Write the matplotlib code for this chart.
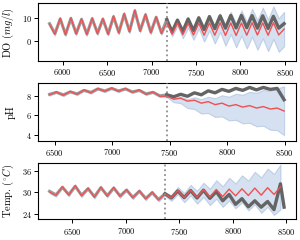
import numpy as np
import matplotlib
matplotlib.use("Agg")
import matplotlib.pyplot as plt

plt.rcParams["font.family"] = "serif"
plt.rcParams["font.serif"] = ["cmr10"]
plt.rcParams["mathtext.fontset"] = "cm"
plt.rcParams["axes.formatter.use_mathtext"] = True
plt.rcParams["font.size"] = 6

# time grids (one point per half-cycle of the wave)
t_do = np.arange(5852, 8493, 60)
t_ph = np.arange(6456, 8497, 60)
t_tp = np.arange(6286, 8447, 60)
split_do, split_ph, split_tp = 22, 17, 18

# DO (mg/l)
do_true = [7.5, 3.3, 9.5, 3.0, 9.7, 3.4, 9.3, 3.1, 9.6, 3.5, 9.4, 3.2, 10.4, 3.8, 11.4, 4.3,
           12.9, 4.6, 11.2, 3.9, 10.2, 3.6, 9.2,
           4.0, 9.0, 4.2, 9.5, 4.6, 10.0, 5.0, 10.5, 5.4, 10.8, 5.6, 11.0, 5.7, 11.0, 5.8,
           10.9, 5.6, 10.8, 5.5, 10.6, 5.6, 7.5]
do_fit = [7.3, 3.0, 9.8, 2.8, 10.0, 3.1, 9.6, 2.9, 9.9, 3.2, 9.7, 3.0, 10.8, 3.5, 11.9, 4.0,
          13.3, 4.3, 11.6, 3.6, 10.4, 3.3, 8.2]
do_pred = [8.2, 3.0, 7.8, 2.8, 7.6, 2.7, 7.7, 2.6, 7.8, 2.6, 7.9, 2.5, 7.8, 2.5, 7.8, 2.6,
           7.9, 2.7, 7.8, 2.6, 7.9, 2.7, 5.2]
do_spread = [0.6, 0.9, 1.2, 1.5, 1.8, 2.0, 2.3, 2.7, 3.1, 3.5, 3.9, 4.3, 4.7, 5.0, 5.3, 5.6,
             5.9, 6.2, 6.5, 6.7, 6.9, 7.1, 7.3]

# pH
ph_true = [8.15, 8.35, 8.1, 8.4, 8.2, 8.55, 8.35, 8.7, 8.5, 8.75, 8.5, 8.7, 8.4, 8.55, 8.2,
           8.35, 8.0, 8.1,
           7.9, 8.15, 7.95, 8.3, 8.1, 8.5, 8.3, 8.65, 8.45, 8.75, 8.55, 8.85, 8.6, 8.85, 8.65,
           8.75, 7.6]
ph_fit = [8.1, 8.4, 8.05, 8.45, 8.15, 8.6, 8.3, 8.75, 8.45, 8.8, 8.45, 8.75, 8.35, 8.6, 8.15,
          8.4, 7.95, 7.95]
ph_pred = [7.95, 7.65, 7.75, 7.45, 7.55, 7.25, 7.4, 7.1, 7.25, 6.95, 7.1, 6.85, 7.0, 6.75,
           6.9, 6.65, 6.75, 6.45]
ph_spread_lo = [0.1, 0.3, 0.5, 0.7, 0.9, 1.05, 1.15, 1.25, 1.35, 1.45, 1.55, 1.65, 1.75, 1.85,
                1.95, 2.1, 2.25, 2.45]
ph_spread_hi = [0.1, 0.12, 0.15, 0.2, 0.3, 0.4, 0.5, 0.65, 0.8, 0.95, 1.1, 1.25, 1.4, 1.55,
                1.7, 1.85, 2.0, 2.5]

# Temperature (C)
tp_true = [30.3, 29.3, 31.4, 29.4, 31.7, 29.2, 31.0, 28.8, 31.3, 29.1, 31.2, 29.0, 30.6, 28.6,
           30.3, 28.3, 29.9, 28.0, 29.6,
           28.4, 30.4, 28.5, 30.5, 28.4, 30.6, 28.3, 30.2, 27.6, 29.4, 26.6, 28.2, 25.9, 27.6,
           25.8, 27.4, 25.1, 32.4]
tp_tail_t, tp_tail_v = 8480, 25.8
tp_fit = [30.1, 29.1, 31.6, 29.2, 31.9, 29.0, 31.2, 28.6, 31.5, 28.9, 31.4, 28.8, 30.8, 28.4,
          30.5, 28.1, 30.1, 27.8, 29.5]
tp_pred = [29.5, 28.4, 30.5, 28.5, 30.6, 28.6, 30.7, 28.7, 30.8, 28.8, 30.9, 29.0, 31.0, 29.1,
           31.2, 29.2, 31.3, 29.4, 31.5]
tp_spread = [0.5, 0.8, 1.0, 1.3, 1.5, 1.8, 2.0, 2.3, 2.6, 2.9, 3.2, 3.5, 3.8, 4.2, 4.6, 5.0,
             5.4, 5.8, 6.3]

c_hist = "#9c9c9c"
c_true = "#646464"
c_pred = "#ef5050"
c_band = "#b9cce6"


def panel(ax, t, true, fit, pred, lo, hi, split, hist_w, ylabel, yticks, ylim, tail=None):
    t = np.asarray(t)
    true = np.asarray(true)
    fit = np.asarray(fit)
    pred = np.asarray(pred)
    th, tf = t[:split + 1], t[split:]
    ax.fill_between(th, fit - hist_w, fit + hist_w, color=c_band, alpha=0.7, lw=0.6,
                    edgecolor="#a9bfdf", zorder=1)
    ax.fill_between(tf, pred - np.asarray(lo), pred + np.asarray(hi), color=c_band, alpha=0.6,
                    lw=0.8, edgecolor="#a4bcdd", zorder=1)
    ax.plot(th, true[:split + 1], color=c_hist, lw=2.2, zorder=2)
    tt, tv = list(tf), list(true[split:])
    if tail is not None:
        tt.append(tail[0])
        tv.append(tail[1])
    ax.plot(tt, tv, color=c_true, lw=2.4, zorder=2)
    ax.plot(th, fit, color=c_pred, lw=0.9, zorder=3)
    ax.plot(tf, pred, color=c_pred, lw=1.0, zorder=3)
    ax.axvline(t[split], color="#8e8e8e", ls=":", lw=1.3, zorder=4)
    ax.set_yticks(yticks)
    ax.set_ylim(*ylim)
    ax.set_ylabel(ylabel, fontsize=7.5)
    ax.yaxis.set_label_coords(-0.085, 0.5)
    ax.tick_params(length=3, width=0.7, pad=1.5)
    for s in ax.spines.values():
        s.set_linewidth(0.8)


fig = plt.figure(figsize=(3.0, 2.4), dpi=100)
ax1 = fig.add_axes([0.126, 0.747, 0.86, 0.239])
ax2 = fig.add_axes([0.126, 0.4125, 0.86, 0.2425])
ax3 = fig.add_axes([0.126, 0.086, 0.86, 0.2335])

panel(ax1, t_do, do_true, do_fit, do_pred, do_spread, do_spread, split_do, 0.6,
      r"DO $(mg/l)$", [0, 10], (-8.2, 16.1))
ax1.set_xticks([6000, 6500, 7000, 7500, 8000, 8500])

panel(ax2, t_ph, ph_true, ph_fit, ph_pred, ph_spread_lo, ph_spread_hi, split_ph, 0.1,
      "pH", [4, 6, 8], (3.4, 9.32))
ax2.set_xticks([6500, 7000, 7500, 8000, 8500])

panel(ax3, t_tp, tp_true, tp_fit, tp_pred, tp_spread, tp_spread, split_tp, 0.4,
      r"Temp. $(^{\circ}C)$", [24, 30, 36], (22.35, 38.2), tail=(tp_tail_t, tp_tail_v))
ax3.set_xticks([6500, 7000, 7500, 8000, 8500])

fig.savefig("out.png", dpi=100)
